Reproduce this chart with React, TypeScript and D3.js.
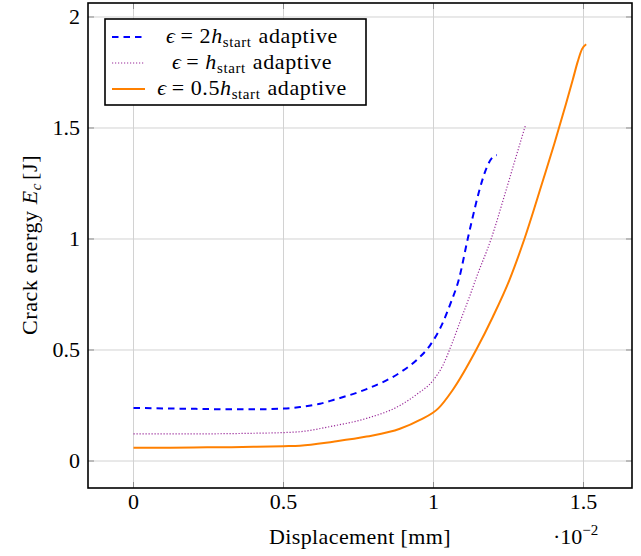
import React from "react";
import * as d3 from "d3";

const xBlue = [0, 0.1, 0.2, 0.3, 0.4, 0.5, 0.555, 0.622, 0.666, 0.777, 0.888, 0.944, 0.988, 1.03, 1.059, 1.084, 1.114, 1.131, 1.153, 1.181, 1.195, 1.211];
const yBlue = [0.239, 0.237, 0.235, 0.233, 0.233, 0.236, 0.243, 0.258, 0.275, 0.324, 0.398, 0.455, 0.52, 0.62, 0.718, 0.815, 1.0, 1.1, 1.22, 1.333, 1.365, 1.378];

const xPurple = [0, 0.1, 0.2, 0.3, 0.4, 0.5, 0.555, 0.666, 0.777, 0.888, 0.944, 0.998, 1.031, 1.059, 1.092, 1.12, 1.144, 1.192, 1.242, 1.275, 1.307];
const yPurple = [0.122, 0.122, 0.122, 0.123, 0.125, 0.128, 0.132, 0.158, 0.192, 0.25, 0.3, 0.362, 0.43, 0.52, 0.64, 0.74, 0.83, 1.0, 1.22, 1.37, 1.514];

const xOrange = [0, 0.1, 0.2, 0.3, 0.4, 0.5, 0.555, 0.666, 0.777, 0.888, 0.955, 1.016, 1.064, 1.142, 1.198, 1.253, 1.303, 1.364, 1.403, 1.442, 1.464, 1.481, 1.495, 1.509];
const yOrange = [0.06, 0.06, 0.061, 0.062, 0.064, 0.067, 0.069, 0.087, 0.11, 0.145, 0.185, 0.237, 0.32, 0.5, 0.65, 0.815, 1.0, 1.26, 1.43, 1.61, 1.716, 1.8, 1.855, 1.877];

const xTicks = [0, 0.5, 1, 1.5];
const xTickLabels = ["0", "0.5", "1", "1.5"];
const yTicks = [0, 0.5, 1, 1.5, 2];
const yTickLabels = ["0", "0.5", "1", "1.5", "2"];

const legendCoefs = ["2", "", "0.5"];

const W = 641, H = 556;
const L = 88, R = 632, T = 3, B = 488;
const FONT = "'Liberation Serif', 'Times New Roman', serif";
const FS = 22;
const SUB = 15;

export default function App() {
  const x = d3.scaleLinear().domain([-0.1517, 1.6617]).range([L, R]);
  const y = d3.scaleLinear().domain([-0.1216, 2.063]).range([B, T]);
  const line = d3
    .line<[number, number]>()
    .x((d) => x(d[0]))
    .y((d) => y(d[1]))
    .curve(d3.curveMonotoneX);

  const series = [
    { xs: xBlue, ys: yBlue, color: "#0000ff", width: 2, dash: "6.5 5" },
    { xs: xPurple, ys: yPurple, color: "#9a2b9a", width: 1.2, dash: "1.2 1.8" },
    { xs: xOrange, ys: yOrange, color: "#ff8000", width: 2, dash: undefined as string | undefined },
  ];

  const tickLen = 6;
  const tickColor = "#8c8c8c";
  const ts = { fontFamily: FONT };

  return (
    <svg
      width={W}
      height={H}
      style={{ position: "absolute", left: 0, top: 0, background: "#fff", fontFamily: FONT }}
    >
      <rect x={0} y={0} width={W} height={H} fill="#fff" />
      {xTicks.map((t) => (
        <line key={"gx" + t} x1={x(t)} x2={x(t)} y1={T} y2={B} stroke="#d2d2d2" strokeWidth={1} />
      ))}
      {yTicks.map((t) => (
        <line key={"gy" + t} x1={L} x2={R} y1={y(t)} y2={y(t)} stroke="#d2d2d2" strokeWidth={1} />
      ))}
      {xTicks.map((t) => (
        <g key={"tx" + t}>
          <line x1={x(t)} x2={x(t)} y1={B} y2={B - tickLen} stroke={tickColor} strokeWidth={1} />
          <line x1={x(t)} x2={x(t)} y1={T} y2={T + tickLen} stroke={tickColor} strokeWidth={1} />
        </g>
      ))}
      {yTicks.map((t) => (
        <g key={"ty" + t}>
          <line x1={L} x2={L + tickLen} y1={y(t)} y2={y(t)} stroke={tickColor} strokeWidth={1} />
          <line x1={R} x2={R - tickLen} y1={y(t)} y2={y(t)} stroke={tickColor} strokeWidth={1} />
        </g>
      ))}
      {series.map((s, i) => (
        <path
          key={"s" + i}
          d={line(s.xs.map((v, j) => [v, s.ys[j]] as [number, number])) || ""}
          fill="none"
          stroke={s.color}
          strokeWidth={s.width}
          strokeDasharray={s.dash}
          strokeLinejoin="round"
        />
      ))}
      <rect x={L} y={T} width={R - L} height={B - T} fill="none" stroke="#000" strokeWidth={1.6} />
      {xTicks.map((t, i) => (
        <text key={"lx" + t} style={ts} x={x(t)} y={509} textAnchor="middle" fontSize={FS} fill="#000">
          {xTickLabels[i]}
        </text>
      ))}
      {yTicks.map((t, i) => (
        <text key={"ly" + t} style={ts} x={80} y={y(t) + 7} textAnchor="end" fontSize={FS} fill="#000">
          {yTickLabels[i]}
        </text>
      ))}
      <text style={{ ...ts, letterSpacing: "0.4px" }} x={360} y={544} textAnchor="middle" fontSize={FS} fill="#000">
        Displacement [mm]
      </text>
      <text style={ts} x={553} y={544} fontSize={FS} fill="#000">
        ·10
        <tspan dy={-9} fontSize={SUB}>−2</tspan>
      </text>
      <text
        style={{ ...ts, letterSpacing: "0.6px" }}
        transform={`translate(37, 245) rotate(-90)`}
        textAnchor="middle"
        fontSize={FS}
        fill="#000"
      >
        Crack energy{" "}
        <tspan fontStyle="italic">E</tspan>
        <tspan fontStyle="italic" fontSize={SUB} dy={4}>c</tspan>
        <tspan dy={-4} dx={3}>[J]</tspan>
      </text>
      <rect x={105} y={19} width={261} height={86} fill="#fff" stroke="#000" strokeWidth={1.6} />
      {series.map((s, i) => {
        const ly = 37 + i * 26;
        const coef = legendCoefs[i];
        return (
          <g key={"lg" + i}>
            <line
              x1={112}
              x2={145}
              y1={ly}
              y2={ly}
              stroke={s.color}
              strokeWidth={s.width}
              strokeDasharray={s.dash}
            />
            <text
              style={{ ...ts, letterSpacing: "0.6px" }}
              x={252}
              y={ly + 6}
              textAnchor="middle"
              fontSize={FS}
              fill="#000"
            >
              <tspan fontStyle="italic">ϵ</tspan>
              <tspan dx={5}>=</tspan>
              {coef ? <tspan dx={6}>{coef}</tspan> : null}
              <tspan fontStyle="italic" dx={coef ? 0 : 6}>h</tspan>
              <tspan fontSize={SUB} dy={4}>start</tspan>
              <tspan dy={-4} dx={7}>adaptive</tspan>
            </text>
          </g>
        );
      })}
    </svg>
  );
}
